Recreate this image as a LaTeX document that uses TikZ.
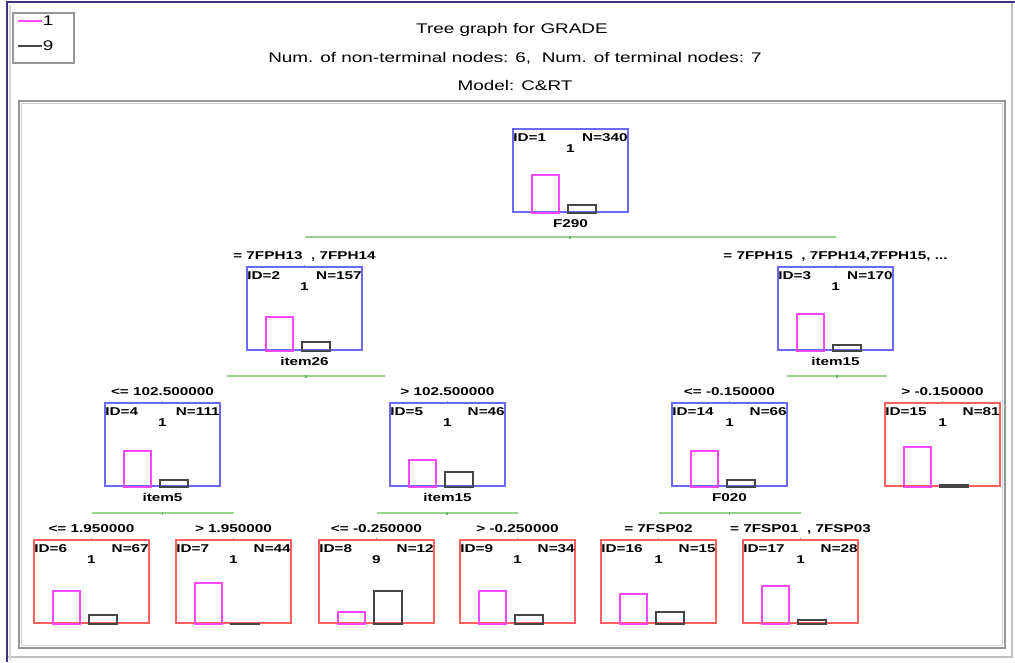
\documentclass[tikz,border=0pt]{standalone}
\usepackage{fontspec}
\setmainfont{Liberation Sans}
\usepackage{graphicx}
\usetikzlibrary{calc}

\definecolor{nodeblue}{RGB}{105,105,255}
\definecolor{leafred}{RGB}{255,95,95}
\definecolor{barpink}{RGB}{255,70,255}
\definecolor{bargray}{RGB}{70,70,70}
\definecolor{splitgreen}{RGB}{150,212,140}
\definecolor{tickgreen}{RGB}{110,180,105}
\definecolor{framegray}{RGB}{150,150,150}
\definecolor{framenavy}{RGB}{60,50,130}

% the screen font is set wide: stretch text horizontally
\newcommand\wtext[1]{\scalebox{1.35}[1]{#1}}

% one tree node: name, x, y (top left, px), style, ID, N, class, pink bar height, gray bar height
\newcommand\treebox[9]{%
  \node[#4,anchor=north west] (#1) at (#2,#3) {};
  \node[lbl,anchor=base west] (#1id) at ($(#1.north west)+(1,13)$) {\wtext{ID=#5}};
  \node[lbl,anchor=base east] (#1n) at ($(#1.north east)+(-1,13)$) {\wtext{N=#6}};
  \node[lbl,anchor=base] (#1c) at ($(#1.north)+(0,24)$) {\wtext{#7}};
  \draw[pinkbar] ($(#1.south west)+(20,0)$) rectangle ++(27,-#8);
  \draw[graybar] ($(#1.south west)+(56,0)$) rectangle ++(28,-#9);
}
% condition written above a node
\newcommand\cond[3]{\node[lbl,anchor=base] (#1) at ($(#2.north)+(0,-7)$) {\wtext{#3}};}
% splitting variable written below a node
\newcommand\splitvar[3]{\node[lbl,anchor=base] (#1) at ($(#2.south)+(0,14)$) {\wtext{#3}};}

\begin{document}
\begin{tikzpicture}[x=0.75pt,y=-0.75pt,
  tbox/.style={draw,line width=1.5pt,rectangle,minimum width=86.25pt,minimum height=62.25pt,inner sep=0pt},
  inner/.style={tbox,draw=nodeblue},
  leaf/.style={tbox,draw=leafred},
  lbl/.style={inner sep=0pt,font=\bfseries\fontsize{8.5}{10}\selectfont},
  pinkbar/.style={draw=barpink,line width=1.5pt},
  graybar/.style={draw=bargray,line width=1.2pt},
  split/.style={draw=splitgreen,line width=2.2pt},
  tick/.style={draw=tickgreen,line width=1pt},
  ttl/.style={inner sep=0pt,font=\fontsize{10.5}{12}\selectfont}
]
\useasboundingbox (0,0) rectangle (1015,662);
\fill[white] (0,0) rectangle (1015,662);

% window frame
\draw[framegray!60,line width=1.5pt] (1012,3) -- (1012,657) -- (7,657);
\draw[framenavy,line width=1.8pt] (7,662) -- (7,2) -- (1015,2);
\draw[framegray!40,line width=1pt] (10,5) -- (10,660);

% plot frame
\draw[framegray,line width=1.6pt] (19,101) rectangle (1005,648);
\draw[framegray!45,line width=0.8pt] (21.5,103.5) rectangle (1002.5,645.5);

% legend
\node[draw=framegray,line width=1.5pt,minimum width=45.75pt,minimum height=37.5pt,anchor=north west,inner sep=0pt] (legend) at (12,12) {};
\coordinate (lg1) at ($(legend.north west)+(6,9)$);
\coordinate (lg2) at ($(legend.north west)+(6,34)$);
\draw[barpink,line width=1.3pt] (lg1) -- ++(24,0) node[anchor=west,inner sep=2pt,ttl,text=black] (lgt1) {\wtext{1}};
\draw[bargray,line width=1.3pt] (lg2) -- ++(24,0) node[anchor=west,inner sep=2pt,ttl,text=black] (lgt2) {\wtext{9}};

% titles
\node[ttl] (t1) at (512,30) {\wtext{Tree graph for GRADE}};
\node[ttl] (t2) at (515,58) {\wtext{Num. of non-terminal nodes: 6,\ \ Num. of terminal nodes: 7}};
\node[ttl] (t3) at (515,85) {\wtext{Model: C\&RT}};

% nodes
\treebox{b1}{512}{128}{inner}{1}{340}{1}{38}{8}
\treebox{b2}{246}{266}{inner}{2}{157}{1}{34}{9}
\treebox{b3}{777}{266}{inner}{3}{170}{1}{37}{6}
\treebox{b4}{104}{402}{inner}{4}{111}{1}{36}{7}
\treebox{b5}{389}{402}{inner}{5}{46}{1}{27}{15}
\treebox{b14}{671}{402}{inner}{14}{66}{1}{36}{7}
\treebox{b15}{884}{402}{leaf}{15}{81}{1}{40}{2}
\treebox{b6}{33}{539}{leaf}{6}{67}{1}{33}{9}
\treebox{b7}{175}{539}{leaf}{7}{44}{1}{41}{0.5}
\treebox{b8}{318}{539}{leaf}{8}{12}{9}{12}{33}
\treebox{b9}{459}{539}{leaf}{9}{34}{1}{33}{9}
\treebox{b16}{600}{539}{leaf}{16}{15}{1}{30}{12}
\treebox{b17}{742}{539}{leaf}{17}{28}{1}{38}{4}

% splitting variables
\splitvar{v1}{b1}{F290}
\splitvar{v2}{b2}{item26}
\splitvar{v3}{b3}{item15}
\splitvar{v4}{b4}{item5}
\splitvar{v5}{b5}{item15}
\splitvar{v14}{b14}{F020}

% branch conditions
\cond{c2}{b2}{= 7FPH13\ \ , 7FPH14}
\cond{c3}{b3}{= 7FPH15\ \ , 7FPH14,7FPH15, ...}
\cond{c4}{b4}{<= 102.500000}
\cond{c5}{b5}{> 102.500000}
\cond{c14}{b14}{<= -0.150000}
\cond{c15}{b15}{> -0.150000}
\cond{c6}{b6}{<= 1.950000}
\cond{c7}{b7}{> 1.950000}
\cond{c8}{b8}{<= -0.250000}
\cond{c9}{b9}{> -0.250000}
\cond{c16}{b16}{= 7FSP02}
\cond{c17}{b17}{= 7FSP01\ \ , 7FSP03}

% split bars
\coordinate (s1a) at (b2.north |- 0,237);
\coordinate (s1b) at (b3.north |- 0,237);
\coordinate (s2a) at (227,376);
\coordinate (s2b) at (385,376);
\coordinate (s3a) at (787,376);
\coordinate (s3b) at (887,376);
\coordinate (s4a) at (b6.north |- 0,513);
\coordinate (s4b) at (b7.north |- 0,513);
\coordinate (s5a) at (b8.north |- 0,513);
\coordinate (s5b) at (b9.north |- 0,513);
\coordinate (s6a) at (b16.north |- 0,513);
\coordinate (s6b) at (b17.north |- 0,513);
\foreach \p in {s1,s2,s3,s4,s5,s6}{
  \draw[split] (\p a) -- (\p b);
  \draw[tick] ($(\p a)!0.5!(\p b)+(0,-1.5)$) -- ++(0,3);
}
\foreach \b in {b2,b3,b4,b5,b14,b15,b6,b7,b8,b9,b16,b17}{
  \draw[tick] (\b.north) -- ++(0,-1.5);
}
\end{tikzpicture}
\end{document}
